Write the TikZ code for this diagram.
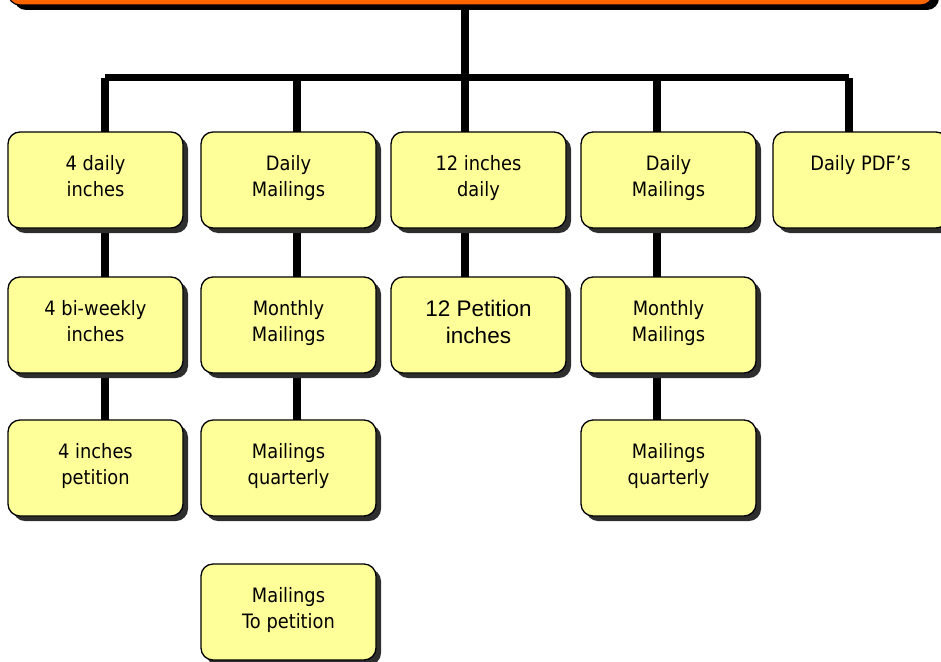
\documentclass[tikz,border=0pt]{standalone}
\usepackage{fontspec}
\setmainfont{DejaVu Sans}[FakeStretch=0.9]
\newfontfamily\arialfont{Liberation Sans}
\usetikzlibrary{shadows}
\definecolor{boxyellow}{HTML}{FFFF99}
\definecolor{bannerorange}{HTML}{FF6600}
\definecolor{shadowgray}{HTML}{2E2E2E}
\pgfdeclarelayer{background}
\pgfsetlayers{background,main}
\newcommand{\bt}[2]{\parbox[c][96pt][t]{175pt}{\centering\fontsize{19.8}{26}\selectfont\rule{0pt}{38.5pt}#1\\#2}}
\newcommand{\btarial}[2]{\parbox[c][96pt][t]{175pt}{\centering\arialfont\fontsize{22.5}{27}\selectfont\rule{0pt}{39pt}#1\\#2}}
\tikzset{
  tbox/.style={rectangle, rounded corners=12pt, draw=black, line width=1.3pt,
    fill=boxyellow, inner sep=0pt, outer sep=0pt, anchor=north west,
    drop shadow={shadow xshift=5pt, shadow yshift=-5pt, fill=shadowgray, opacity=1}},
  banner/.style={rectangle, rounded corners=12pt, draw=black, line width=1.2pt,
    fill=bannerorange, inner sep=0pt, outer sep=0pt, anchor=south west,
    minimum width=925pt, minimum height=60pt,
    drop shadow={shadow xshift=6pt, shadow yshift=-5pt, fill=black, opacity=1}},
  conn/.style={draw=black, line width=7.5pt, line cap=butt}
}
\begin{document}
\begin{tikzpicture}[x=1pt,y=-1pt]
\useasboundingbox (0,0) rectangle (941,661);
\clip (0,0) rectangle (941,661);
% banner
\node[banner] (top) at (8,5) {};
% column 1
\node[tbox] (a1) at (8,132) {\bt{4 daily}{inches}};
\node[tbox] (a2) at (8,277) {\bt{4 bi-weekly}{inches}};
\node[tbox] (a3) at (8,420) {\bt{4 inches}{petition}};
% column 2
\node[tbox] (b1) at (201,132) {\bt{Daily}{Mailings}};
\node[tbox] (b2) at (201,277) {\bt{Monthly}{Mailings}};
\node[tbox] (b3) at (201,420) {\bt{Mailings}{quarterly}};
\node[tbox] (b4) at (201,564) {\bt{Mailings}{To petition}};
% column 3
\node[tbox] (c1) at (391,132) {\bt{12 inches}{daily}};
\node[tbox] (c2) at (391,277) {\btarial{12 Petition}{inches}};
% column 4
\node[tbox] (d1) at (581,132) {\bt{Daily}{Mailings}};
\node[tbox] (d2) at (581,277) {\bt{Monthly}{Mailings}};
\node[tbox] (d3) at (581,420) {\bt{Mailings}{quarterly}};
% column 5
\node[tbox] (e1) at (773,132) {\bt{Daily PDF’s}{}};
% junctions on the bar
\coordinate (j1) at (105,77.5);
\coordinate (j2) at (297,77.5);
\coordinate (j3) at (465,77.5);
\coordinate (j4) at (657,77.5);
\coordinate (j5) at (849,77.5);
\begin{pgfonlayer}{background}
\draw[conn] (top.south -| j3) -- (j3);
\draw[conn] (j1) -- (j5);
\draw[conn] (j1) -- (j1 |- a1.north);
\draw[conn] (j2) -- (j2 |- b1.north);
\draw[conn] (j3) -- (j3 |- c1.north);
\draw[conn] (j4) -- (j4 |- d1.north);
\draw[conn] (j5) -- (j5 |- e1.north);
\draw[conn] (a1.south -| j1) -- (a2.north -| j1);
\draw[conn] (a2.south -| j1) -- (a3.north -| j1);
\draw[conn] (b1.south -| j2) -- (b2.north -| j2);
\draw[conn] (b2.south -| j2) -- (b3.north -| j2);
\draw[conn] (c1.south -| j3) -- (c2.north -| j3);
\draw[conn] (d1.south -| j4) -- (d2.north -| j4);
\draw[conn] (d2.south -| j4) -- (d3.north -| j4);
\end{pgfonlayer}
\end{tikzpicture}
\end{document}
